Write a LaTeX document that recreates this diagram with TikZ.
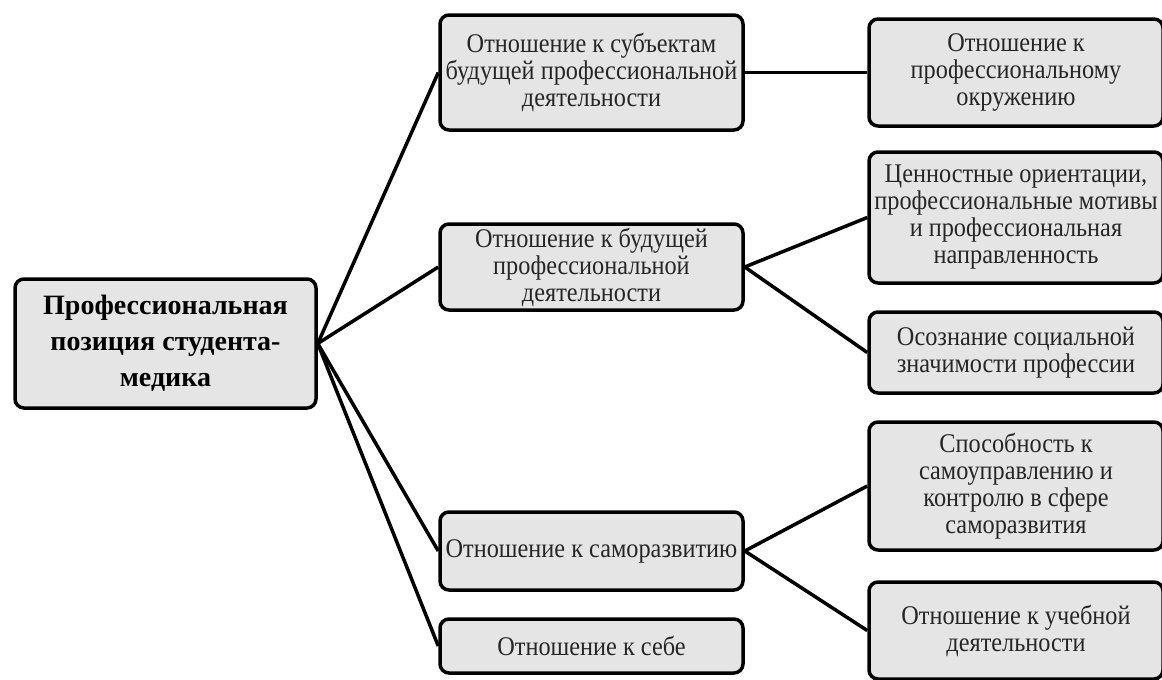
\documentclass[tikz,border=0pt]{standalone}
\usepackage{fontspec}
\setmainfont{Liberation Serif}
\newfontfamily\boxfont[FakeStretch=0.9]{Liberation Serif}
\usepackage{tikz}

\begin{document}
\begin{tikzpicture}[x=1pt, y=-1pt,
  box/.style={draw, line width=3.5pt, rounded corners=9pt, fill=black!10,
    align=center, inner sep=0pt, text=black!85,
    font=\boxfont\fontsize{27}{27}\selectfont},
  link/.style={line width=3.5pt}]

\useasboundingbox (0,0) rectangle (1162,680);

% root
\node[box, minimum width=301pt, minimum height=129pt, text=black,
  font=\fontsize{28}{36}\selectfont\bfseries] (pos) at (165.5,343.5)
  {Профессиональная\\позиция студента-\\медика};

% middle column
\node[box, minimum width=303pt, minimum height=115pt] (subj) at (591.5,72.5)
  {Отношение к субъектам\\будущей профессиональной\\деятельности};
\node[box, minimum width=303pt, minimum height=86pt] (act) at (591.5,267)
  {Отношение к будущей\\профессиональной\\деятельности};
\node[box, minimum width=303pt, minimum height=78pt] (dev) at (591.5,551)
  {Отношение к саморазвитию};
\node[box, minimum width=303pt, minimum height=54pt] (self) at (591.5,646)
  {Отношение к себе};

% right column
\node[box, minimum width=294pt, minimum height=107pt] (env) at (1016,72.5)
  {Отношение к\\профессиональному\\окружению};
\node[box, minimum width=294pt, minimum height=131pt] (val) at (1016,217.5)
  {Ценностные ориентации,\\профессиональные мотивы\\и профессиональная\\направленность};
\node[box, minimum width=294pt, minimum height=81pt] (soc) at (1016,352.5)
  {Осознание социальной\\значимости профессии};
\node[box, minimum width=294pt, minimum height=128pt] (ctrl) at (1016,486)
  {Способность к\\самоуправлению и\\контролю в сфере\\саморазвития};
\node[box, minimum width=294pt, minimum height=97pt] (study) at (1016,630.5)
  {Отношение к учебной\\деятельности};

% links
\draw[link] (pos.east) -- (subj.west);
\draw[link] (pos.east) -- (act.west);
\draw[link] (pos.east) -- (dev.west);
\draw[link] (pos.east) -- (self.west);

\draw[link] (subj.east) -- (env.west);
\draw[link] (act.east) -- (val.west);
\draw[link] (act.east) -- (soc.west);
\draw[link] (dev.east) -- (ctrl.west);
\draw[link] (dev.east) -- (study.west);

\end{tikzpicture}
\end{document}
